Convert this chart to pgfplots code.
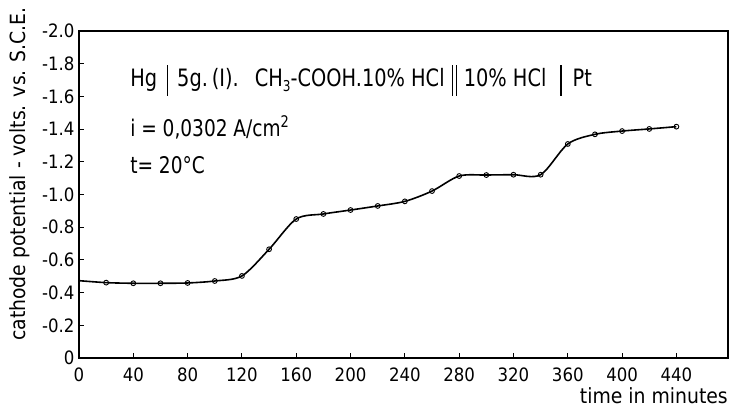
\documentclass[border=0pt]{standalone}
\usepackage{fontspec}
\setmainfont{DejaVu Sans Condensed}
\newfontfamily\ann[FakeStretch=0.9]{DejaVu Sans Condensed}
\usepackage{pgfplots}
\pgfplotsset{compat=1.18}
\usepackage{pgfplotstable}

\pgfplotstableread{
t v
0 -0.473
20 -0.461
40 -0.457
60 -0.457
80 -0.459
100 -0.471
120 -0.502
140 -0.665
160 -0.850
180 -0.881
200 -0.905
220 -0.930
240 -0.958
260 -1.021
280 -1.113
300 -1.119
320 -1.121
340 -1.121
360 -1.309
380 -1.368
400 -1.388
420 -1.401
440 -1.415
}\curve

\pgfplotstableread{
t v
20 -0.461
40 -0.457
60 -0.457
80 -0.459
100 -0.471
120 -0.502
140 -0.665
160 -0.850
180 -0.881
200 -0.905
220 -0.930
240 -0.958
260 -1.021
280 -1.113
300 -1.119
320 -1.121
340 -1.121
360 -1.309
380 -1.368
400 -1.388
420 -1.401
440 -1.415
}\points

\newcommand\vb[2]{\hspace{#1}\rule[-9bp]{1.1bp}{31bp}\hspace{#2}}
\newcommand\dvb{\hspace{7bp}\rule[-9bp]{1.1bp}{31bp}\hspace{3bp}\rule[-9bp]{1.1bp}{31bp}\hspace{7bp}}

\begin{document}
\begin{tikzpicture}
\begin{axis}[
  scale only axis, width=649bp, height=327bp,
  xmin=0, xmax=478, ymin=-2, ymax=0, y dir=reverse,
  axis line style={line width=1.4bp},
  xtick={0,40,80,120,160,200,240,280,320,360,400,440},
  xticklabels={0,40,80,120,160,200,240,280,320,360,400,440},
  ytick={-2,-1.8,-1.6,-1.4,-1.2,-1,-0.8,-0.6,-0.4,-0.2,0},
  yticklabels={-2.0,-1.8,-1.6,-1.4,-1.2,-1.0,-0.8,-0.6,-0.4,-0.2,0},
  tick align=inside, major tick length=5bp,
  xtick pos=bottom, ytick pos=left,
  tick style={line width=1bp, black},
  ticklabel style={font=\fontsize{18.5}{21}\selectfont},
  xticklabel style={yshift=-6bp},
  yticklabel style={xshift=-1bp},
  clip=false,
]
\addplot[black, line width=1.6bp, smooth, tension=0.5, no markers] table[x=t, y=v] {\curve};
\addplot[only marks, mark=o, mark size=2.4bp, mark options={fill=white, line width=0.9bp, draw=black}] table[x=t, y=v] {\points};

\node[anchor=west, font=\ann\fontsize{24}{27}\selectfont, inner sep=0pt] at (axis cs:37.6,-1.70)
  {Hg\vb{10bp}{9bp}5g.\,(I).\hspace{16bp}CH\raisebox{-5bp}{\fontsize{15}{16}\selectfont 3}-COOH.10\% HCl\dvb 10\% HCl\vb{14bp}{11bp}Pt};
\node[anchor=west, font=\ann\fontsize{23}{26}\selectfont, inner sep=0pt] at (axis cs:37.6,-1.41)
  {i = 0,0302 A/cm\textsuperscript{2}};
\node[anchor=west, font=\ann\fontsize{23}{26}\selectfont, inner sep=0pt] at (axis cs:37.6,-1.18)
  {t= 20°C};
\node[rotate=90, font=\fontsize{21}{24}\selectfont, inner sep=0pt] at ([xshift=-59bp]axis cs:0,-1.125)
  {cathode potential - volts. vs. S.C.E.};
\node[anchor=east, font=\fontsize{21}{24}\selectfont, inner sep=0pt] at ([yshift=-38bp]axis cs:478,0)
  {time in minutes};
\end{axis}
\pgfresetboundingbox
\path (current axis.south west) ++(-79bp,-51bp) rectangle ++(731bp,409bp);
\end{tikzpicture}
\end{document}
